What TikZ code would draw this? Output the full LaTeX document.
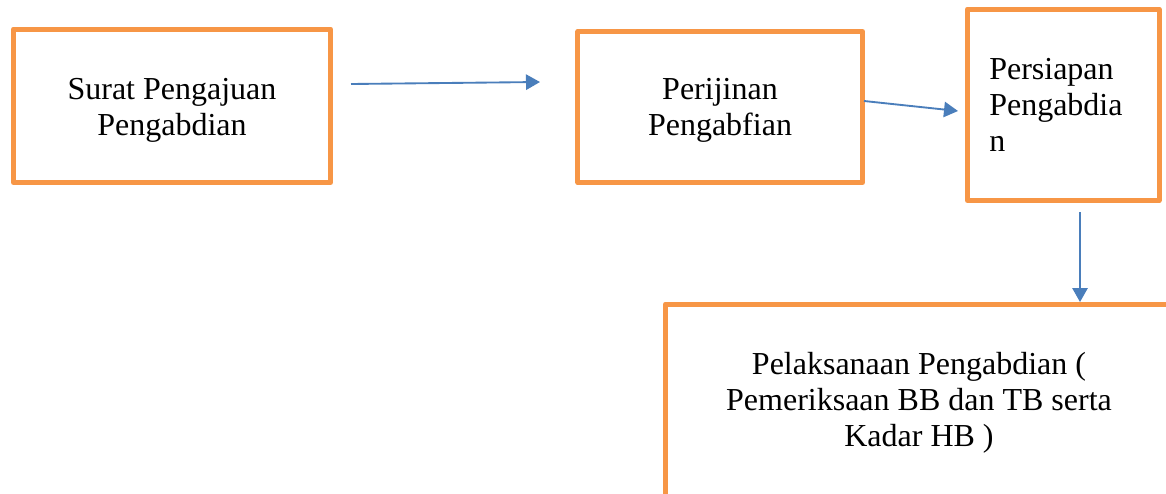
\documentclass[tikz,border=0pt]{standalone}
\usepackage{fontspec}
\setmainfont{Liberation Serif}
\usetikzlibrary{arrows.meta}
\definecolor{boxorange}{RGB}{247,150,70}
\definecolor{arrowblue}{RGB}{74,126,187}
\tikzset{
  stepbox/.style={draw=boxorange, line width=3.75pt, line join=round, inner sep=0pt, fill=none},
  lbl/.style={inner sep=0pt, font=\fontsize{24pt}{27pt}\selectfont, text=black},
  arr/.style={draw=arrowblue, line width=1.4pt, -{Triangle[length=10.5pt,width=11.5pt]}}
}
\begin{document}
\begin{tikzpicture}[x=0.75pt,y=-0.75pt]
\useasboundingbox (0,0) rectangle (1166,493);
\clip (0,0) rectangle (1166,493);
\fill[white] (0,0) rectangle (1166,493);
% boxes
\node[stepbox, minimum width=237.75pt, minimum height=115.1pt] (b1) at (172,105.75) {};
\node[stepbox, minimum width=213.4pt, minimum height=113.25pt] (b2) at (720.25,107) {};
\node[stepbox, minimum width=143.6pt, minimum height=143.6pt] (b3) at (1063.25,104.75) {};
\node[stepbox, minimum width=385.9pt, minimum height=154.5pt] (b4) at (922.75,407) {};
% labels
\node[lbl, align=center] (t1) at (172,110.5) {Surat Pengajuan\\Pengabdian};
\node[lbl, align=center] (t2) at (720,110.5) {Perijinan\\Pengabfian};
\node[lbl, align=left, anchor=west] (t3) at (989,105) {Persiapan\\Pengabdia\\n};
\node[lbl, align=center] (t4) at (919,403) {Pelaksanaan Pengabdian (\\Pemeriksaan BB dan TB serta\\Kadar HB )};
% connector ends
\coordinate (a1s) at (351,84);
\coordinate (a1e) at (540,82);
\coordinate (a2s) at (864,101);
\coordinate (a2e) at (958,111);
\coordinate (a3s) at (1080,212);
\coordinate (a3e) at (1080,302);
% connectors
\draw[arr] (a1s) -- (a1e);
\draw[arr] (a2s) -- (a2e);
\draw[arr] (a3s) -- (a3e);
\end{tikzpicture}
\end{document}
